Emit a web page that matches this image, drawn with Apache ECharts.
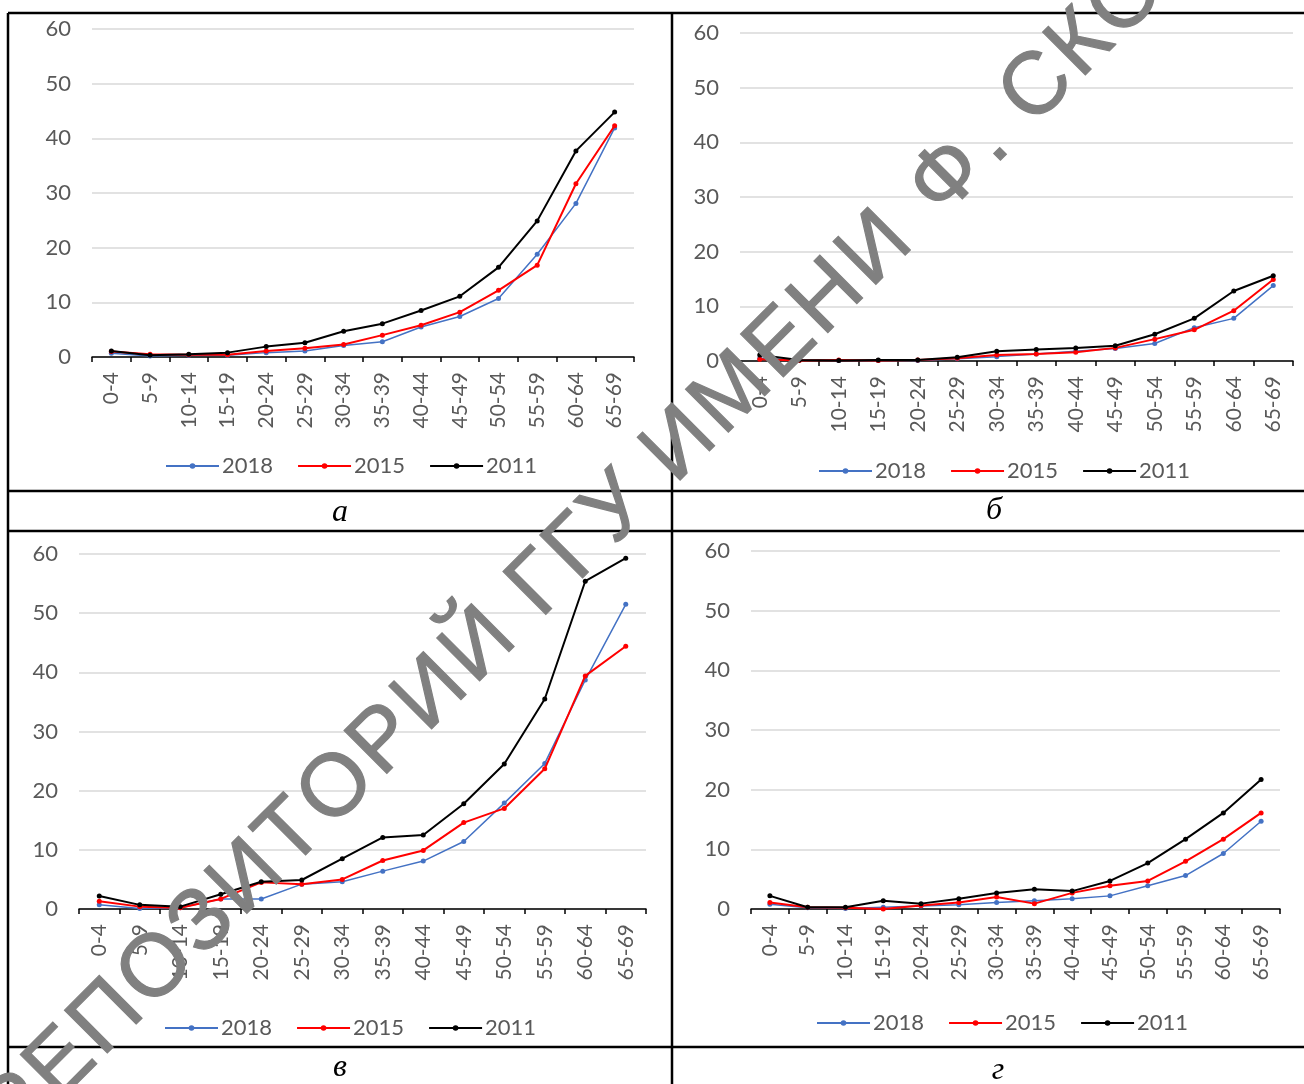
<!DOCTYPE html>
<html>
<head>
<meta charset="utf-8">
<script src="https://cdn.jsdelivr.net/npm/echarts@6/dist/echarts.min.js"></script>
<style>
  html, body { margin: 0; padding: 0; background: #fff; }
  #chart { width: 1304px; height: 1084px; }
</style>
</head>
<body>
<div id="chart"></div>
<script>
// age groups on the x axis
const ageGroups = ['0-4', '5-9', '10-14', '15-19', '20-24', '25-29', '30-34',
  '35-39', '40-44', '45-49', '50-54', '55-59', '60-64', '65-69']
const years = ['2018', '2015', '2011']
const yearColors = ['#4472C4', '#FF0000', '#000000']
const yTicks = [0, 10, 20, 30, 40, 50, 60]

// panel а
const a2018 = [0.7, 0.2, 0.3, 0.3, 0.8, 1.1, 2.1, 2.8, 5.5, 7.4, 10.7, 18.8, 28.1, 41.9]
const a2015 = [1.0, 0.5, 0.4, 0.4, 1.1, 1.6, 2.3, 4.0, 5.8, 8.2, 12.2, 16.8, 31.7, 42.3]
const a2011 = [1.1, 0.3, 0.5, 0.8, 1.9, 2.6, 4.7, 6.1, 8.5, 11.1, 16.4, 24.9, 37.7, 44.8]
// panel б
const b2018 = [0.5, 0.2, 0.1, 0.1, 0.1, 0.4, 0.8, 1.3, 1.8, 2.3, 3.2, 6.1, 7.8, 13.8]
const b2015 = [0.3, 0.1, 0.2, 0.1, 0.2, 0.5, 1.1, 1.3, 1.6, 2.4, 4.0, 5.7, 9.2, 14.9]
const b2011 = [1.1, 0.2, 0.1, 0.2, 0.2, 0.7, 1.8, 2.1, 2.4, 2.8, 4.9, 7.8, 12.8, 15.6]
// panel в
const v2018 = [0.7, 0.1, 0.2, 1.7, 1.7, 4.2, 4.6, 6.4, 8.1, 11.4, 17.9, 24.6, 38.7, 51.5]
const v2015 = [1.3, 0.4, 0.2, 1.7, 4.5, 4.2, 5.0, 8.2, 9.9, 14.6, 17.0, 23.7, 39.4, 44.4]
const v2011 = [2.2, 0.7, 0.4, 2.5, 4.6, 4.9, 8.5, 12.1, 12.5, 17.8, 24.5, 35.5, 55.4, 59.3]
// panel г
const g2018 = [0.8, 0.2, 0.1, 0.3, 0.5, 0.7, 1.1, 1.4, 1.7, 2.2, 3.9, 5.6, 9.3, 14.7]
const g2015 = [1.1, 0.3, 0.2, 0.0, 0.6, 1.1, 2.0, 0.9, 2.7, 3.9, 4.7, 8.0, 11.7, 16.1]
const g2011 = [2.2, 0.3, 0.3, 1.4, 0.9, 1.7, 2.7, 3.3, 3.0, 4.7, 7.7, 11.7, 16.1, 21.7]

const panelLabels = ['а', 'б', 'в', 'г']

// layout of the four cells
const panels = [
  { grid: { left: 92, top: 29, width: 542, height: 328 }, legendX: 350, legendY: 463, labelX: 340, labelY: 513, data: [a2018, a2015, a2011] },
  { grid: { left: 740, top: 33, width: 553, height: 328 }, legendX: 1003, legendY: 468, labelX: 994, labelY: 511, data: [b2018, b2015, b2011] },
  { grid: { left: 79, top: 554, width: 567, height: 355 }, legendX: 349, legendY: 1025, labelX: 340, labelY: 1068, data: [v2018, v2015, v2011] },
  { grid: { left: 751, top: 551, width: 529, height: 358 }, legendX: 1001, legendY: 1020, labelX: 998, labelY: 1071, data: [g2018, g2015, g2011] },
]

const textColor = '#595959'
const font = 'Lato'

const chart = echarts.init(document.getElementById('chart'))

const grids = []
const xAxes = []
const yAxes = []
const series = []
const legends = []
const graphics = []

panels.forEach((p, i) => {
  grids.push({ ...p.grid, containLabel: false })
  xAxes.push({
    type: 'category',
    gridIndex: i,
    data: ageGroups,
    boundaryGap: true,
    axisLine: { lineStyle: { color: '#000', width: 1.5 } },
    axisTick: { show: true, length: 5, lineStyle: { color: '#000', width: 1.5 } },
    axisLabel: { rotate: 90, interval: 0, color: textColor, fontSize: 21, fontFamily: font, margin: 15 },
  })
  yAxes.push({
    type: 'value',
    gridIndex: i,
    min: yTicks[0],
    max: yTicks[yTicks.length - 1],
    interval: yTicks[1] - yTicks[0],
    axisLine: { show: false },
    axisTick: { show: false },
    splitLine: { lineStyle: { color: '#D9D9D9', width: 1.5 } },
    axisLabel: { color: textColor, fontSize: 22, fontFamily: font, margin: 21 },
  })
  years.forEach((y, k) => {
    series.push({
      name: y,
      type: 'line',
      xAxisIndex: i,
      yAxisIndex: i,
      data: p.data[k],
      symbol: 'circle',
      symbolSize: 5,
      showSymbol: true,
      lineStyle: { color: yearColors[k], width: k === 0 ? 1.5 : 2 },
      itemStyle: { color: yearColors[k] },
      z: 2 + k,
    })
  })
  legends.push({
    data: years,
    left: p.legendX - 190,
    top: p.legendY - 13,
    itemWidth: 53,
    itemHeight: 7,
    itemGap: 24,
    textStyle: { color: textColor, fontSize: 22, fontFamily: font, padding: [0, 0, 0, -2] },
  })
  graphics.push({
    type: 'text',
    x: p.labelX,
    y: p.labelY,
    style: {
      text: panelLabels[i],
      fill: '#000',
      font: 'italic 32px "Liberation Serif", "DejaVu Serif", serif',
      textAlign: 'center',
      textVerticalAlign: 'middle',
    },
  })
})

// table borders
const border = (x1, y1, x2, y2) => ({
  type: 'line',
  shape: { x1, y1, x2, y2 },
  style: { stroke: '#000', lineWidth: 2.5 },
  z: 50,
})
graphics.push(border(8, 13, 1304, 13))
graphics.push(border(8, 13, 8, 1084))
graphics.push(border(672, 13, 672, 1084))
graphics.push(border(8, 491, 1304, 491))
graphics.push(border(8, 531, 1304, 531))
graphics.push(border(8, 1047, 1304, 1047))

// repository watermark, one glyph at a time along a 45 degree line
const wmText = 'РЕПОЗИТОРИЙ ГГУ ИМЕНИ Ф. СКОРИНЫ'
const wmWidths = { 'Р': 0.667, 'Е': 0.667, 'П': 0.718, 'О': 0.778, 'З': 0.6, 'И': 0.722, 'Т': 0.611,
  'Й': 0.722, 'Г': 0.552, 'У': 0.637, 'М': 0.833, 'Н': 0.722, 'Ф': 0.88, '.': 0.278, ' ': 0.278,
  'С': 0.722, 'К': 0.583, 'Ы': 0.88 }
const wmStep = 94
const wmAnchorIndex = wmText.indexOf('Ф')
const wmAnchorS = 544
let cum = 0
const centers = []
for (const ch of wmText) {
  const w = wmWidths[ch] || 0.7
  centers.push(cum + w / 2)
  cum += w
}
const c = Math.SQRT1_2
for (let i = 0; i < wmText.length; i++) {
  const ch = wmText[i]
  if (ch === ' ') continue
  const s = wmAnchorS + (centers[i] - centers[wmAnchorIndex]) * wmStep
  graphics.push({
    type: 'text',
    x: 560 + s * c + 3,
    y: 560 - s * c + 3,
    rotation: Math.PI / 4,
    z: 100,
    silent: true,
    style: {
      text: ch,
      fill: '#808080',
      stroke: '#808080',
      lineWidth: 1.2,
      font: '88px "Liberation Sans", Arial, sans-serif',
      textAlign: 'center',
      textVerticalAlign: 'middle',
    },
  })
}

chart.setOption({
  animation: false,
  backgroundColor: '#fff',
  grid: grids,
  xAxis: xAxes,
  yAxis: yAxes,
  legend: legends,
  series,
  graphic: graphics,
})
</script>
</body>
</html>
